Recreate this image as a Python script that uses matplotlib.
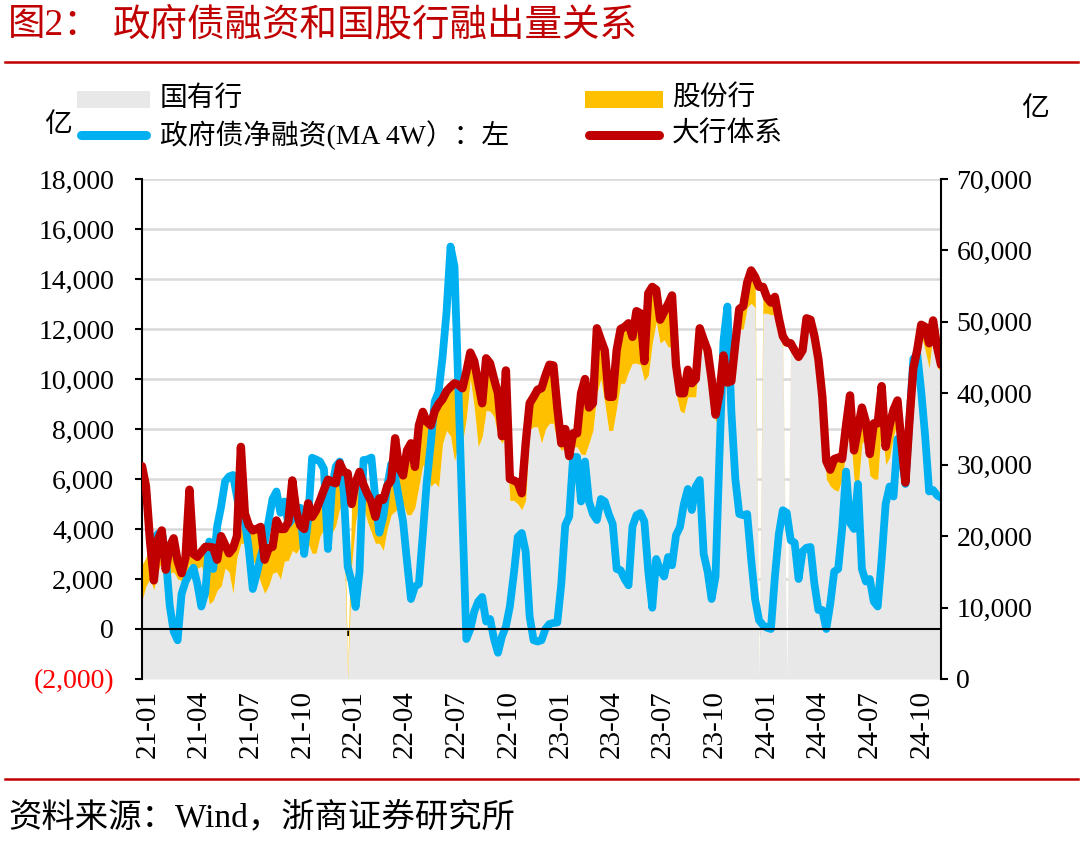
import numpy as np
import pandas as pd
import matplotlib
matplotlib.use('Agg')
import matplotlib.pyplot as plt
import matplotlib.dates as mdates
from matplotlib.lines import Line2D
from matplotlib.patches import Rectangle
from matplotlib.transforms import ScaledTranslation, blended_transform_factory
from matplotlib.ticker import FixedLocator, FuncFormatter

plt.rcParams['font.family'] = ['Liberation Serif', 'Noto Sans CJK SC', 'DejaVu Sans']

# ---------------- data (weekly, 亿元) ----------------
dates = pd.date_range('2021-01-01', periods=203, freq='7D')

# 大行体系 (right axis)
dahang = [
    29800, 27000, 19500, 13800, 19500, 20800, 15300, 18500, 19700, 16500,
    14800, 17000, 26500, 17500, 17100, 17800, 18500, 18500, 18400, 16700,
    20000, 18800, 17600, 18300, 20000, 32500, 23200, 21500, 20800, 21000,
    21300, 16700, 18300, 18500, 22200, 21000, 21000, 22000, 27800, 23500,
    21500, 21000, 24600, 22700, 23600, 25000, 26500, 27900, 27600, 27400,
    30200, 29000, 28800, 24500, 27500, 29000, 27200, 25900, 24800, 22700,
    25300, 25100, 27000, 27800, 33700, 29500, 28500, 32000, 33000, 29700,
    35500, 37400, 36000, 35500, 37500, 38500, 39200, 40300, 40900, 41400,
    41200, 40700, 43000, 45700, 44500, 41500, 38600, 44900, 44200, 42000,
    40000, 34000, 43200, 28000, 27800, 27500, 26000, 33000, 38600, 39500,
    40500, 40700, 42500, 44000, 43900, 38000, 33000, 35000, 31200, 34400,
    34400, 40000, 42000, 38000, 38600, 49100, 47500, 46000, 39500, 39500,
    46000, 49000, 49300, 49800, 47900, 51500, 51200, 44500, 54000, 54900,
    54500, 50300, 51400, 52500, 53700, 44000, 40000, 40000, 43300, 41400,
    42000, 49100, 47500, 46000, 42000, 37000, 40000, 45300, 41500, 41700,
    47000, 51800, 52200, 55500, 57200, 56300, 54900, 54900, 53400, 52700,
    53500, 50500, 48000, 47100, 47000, 46000, 45100, 46000, 50500, 50300,
    48000, 44800, 39500, 30500, 29300, 30800, 31000, 30800, 35500, 39700,
    32000, 35000, 38000, 36000, 31500, 35800, 35800, 41000, 32500, 35500,
    37700, 39000, 33000, 27500, 36000, 43500, 46100, 49600, 49300, 47000,
    50200, 46500, 44000,
]

# 国有行 (right axis, area)
guoyou = [
    11000, 13000, 14000, 12500, 15000, 16500, 13000, 14800, 15000, 14000,
    13800, 14000, 16200, 15000, 15500, 15800, 14000, 10500, 11000, 12400,
    13000, 15500, 15000, 12000, 17000, 19000, 19000, 17500, 16700, 15500,
    13500, 12000, 13000, 14800, 15000, 14000, 16500, 16600, 18000, 17600,
    18500, 19400, 19000, 17600, 17600, 20000, 21000, 21200, 20400, 21500,
    24000, 22000, 0, 16000, 22000, 25000, 24000, 22000, 20500, 19000,
    19000, 18000, 21000, 23000, 23500, 24000, 24500, 23000, 23000, 24000,
    27000, 30000, 29000, 27000, 27500, 26900, 33000, 34800, 34000, 30500,
    33000, 33000, 36500, 42000, 38000, 32500, 33900, 37600, 37500, 36700,
    34000, 33000, 34000, 25000, 25000, 24500, 23700, 25000, 35000, 35300,
    35300, 33000, 35000, 35800, 35800, 33000, 32000, 32500, 30500, 32500,
    32500, 31500, 31400, 33000, 34800, 40000, 42000, 38600, 34800, 34800,
    38000, 41400, 41400, 43000, 44200, 44200, 44000, 41800, 42500, 47000,
    50000, 47000, 47500, 46500, 46500, 40000, 37600, 37200, 39500, 39500,
    39500, 47800, 45500, 45000, 40000, 36000, 37000, 43000, 40000, 40500,
    45000, 49000, 49000, 52000, 52600, 52000, 0, 51200, 51200, 51000,
    51000, 48500, 46500, 0, 46000, 45000, 44500, 45500, 50000, 49500,
    47500, 44000, 37000, 28000, 27000, 26500, 26300, 28000, 32000, 35000,
    28000, 26500, 33000, 33500, 28500, 28000, 28000, 36000, 30000, 31000,
    34000, 36000, 31000, 27000, 33000, 41500, 45000, 48000, 46000, 43500,
    48500, 43700, 43000,
]

# 股份行 (right axis, stacked area)
gufen = [
    5000, 4000, 5500, 1300, 4500, 4300, 2300, 3700, 4700, 2500,
    1000, 3000, 2800, 2500, 1600, 2000, 4500, 8000, 7400, 4300,
    7000, 3300, 2600, 6300, 3000, 2000, 4200, 4000, 4100, 5500,
    7800, 4700, 5300, 3700, 7200, 7000, 4500, 5400, 5000, 5900,
    3000, 1600, 5600, 5100, 6000, 5000, 5500, 6700, 7200, 5900,
    4500, 7000, 800, 8500, 5500, 4000, 3200, 3900, 4300, 3700,
    6300, 7100, 6000, 4800, 5500, 5500, 4000, 9000, 10000, 5700,
    8500, 7400, 7000, 8500, 10000, 11600, 6200, 5500, 6900, 10900,
    8200, 7700, 6500, 3700, 6500, 9000, 4700, 7300, 6700, 5300,
    6000, 1000, 6000, 3000, 2800, 3000, 2300, 8000, 3600, 4200,
    5200, 7700, 7500, 8200, 8100, 5000, 1000, 2500, 700, 1900,
    1900, 8500, 10600, 5000, 3800, 9100, 5500, 7400, 4700, 4700,
    8000, 7600, 7900, 6800, 3700, 7300, 7200, 2700, 11500, 7900,
    4500, 3300, 3900, 6000, 7200, 4000, 2400, 2800, 3800, 1900,
    2500, 1300, 2000, 1000, 2000, 1000, 3000, 2300, 1500, 1200,
    2000, 2800, 3200, 3500, 4600, 4300, 0, 3700, 2200, 1700,
    2500, 2000, 1500, 0, 1000, 1000, 600, 500, 500, 800,
    500, 800, 2500, 2500, 2300, 4300, 4700, 2800, 3500, 4700,
    4000, 8500, 5000, 2500, 3000, 7800, 7800, 5000, 2500, 4500,
    3700, 3000, 2000, 500, 3000, 2000, 1100, 1600, 3300, 3500,
    1700, 2800, 1000,
]

# 政府债净融资 MA 4W (left axis)
zhengfuzhai = [
    np.nan, np.nan, 3500, 3560, 3800, 3900, 2900, 950, -100, -450,
    1400, 1900, 2200, 2450, 1800, 900, 1450, 3500, 2400, 4100,
    4900, 5900, 6100, 6160, 5300, 4500, 4300, 3200, 1600, 2200,
    2900, 3450, 4300, 5200, 5500, 4650, 5100, 4200, 4400, 4800,
    4850, 3000, 4400, 6850, 6780, 6700, 6400, 3200, 5600, 6500,
    6700, 5500, 2500, 1900, 880, 2300, 6760, 6780, 6860, 5200,
    3850, 4500, 5700, 6600, 6080, 5200, 4300, 2700, 1200, 1700,
    1800, 3800, 5900, 7400, 9100, 9500, 10900, 12700, 15300, 14500,
    9500, 4500, -400, 0, 700, 1100, 1280, 300, 400, -400,
    -950, -300, 100, 900, 2200, 3680, 3840, 3100, 500, -450,
    -500, -450, 0, 200, 240, 260, 1800, 4150, 4500, 6880,
    6880, 5100, 6700, 5100, 4600, 4360, 5200, 5100, 4600, 4200,
    2400, 2350, 2000, 1750, 4100, 4550, 4640, 4300, 2300, 850,
    2800, 2360, 2100, 2880, 2550, 3750, 4080, 5000, 5600, 4760,
    5700, 5960, 3000, 2300, 1200, 2100, 7000, 11500, 12900, 8700,
    6000, 4600, 4550, 4600, 2800, 1200, 350, 150, 50, 0,
    2080, 3800, 4750, 4650, 3550, 3450, 2000, 3100, 3250, 3280,
    1800, 760, 760, 0, 1000, 2300, 2400, 4000, 6300, 4250,
    4000, 5800, 2400, 1900, 2000, 1100, 900, 2800, 5000, 5700,
    5300, 7600, 7000, 5800, 8300, 10800, 11000, 9500, 7700, 5500,
    5560, 5350, 5250,
]

tick_dates = pd.to_datetime(['2021-01-01', '2021-04-01', '2021-07-01', '2021-10-01',
                             '2022-01-01', '2022-04-01', '2022-07-01', '2022-10-01',
                             '2023-01-01', '2023-04-01', '2023-07-01', '2023-10-01',
                             '2024-01-01', '2024-04-01', '2024-07-01', '2024-10-01'])
tick_labels = ['21-01', '21-04', '21-07', '21-10', '22-01', '22-04', '22-07', '22-10',
               '23-01', '23-04', '23-07', '23-10', '24-01', '24-04', '24-07', '24-10']
left_ticks = list(range(-2000, 18001, 2000))
right_ticks = list(range(0, 70001, 10000))

# ---------------- figure ----------------
W, H = 1080, 844
fig = plt.figure(figsize=(W / 100, H / 100), dpi=100)
def fx(px): return px / W
def fy(py): return 1 - py / H

RED = '#C00000'
GREY = '#E8E8E8'
YEL = '#FFC000'
BLUE = '#00B0F0'

ax = fig.add_axes([fx(142), fy(679), fx(941) - fx(142), fy(179) - fy(679)])
ax2 = ax.twinx()
ax.set_ylim(-2000, 18000)
ax2.set_ylim(0, 70000)
ax.set_xlim(dates[0], dates[-1])

gy = np.array(guoyou, dtype=float)
gf = np.array(gufen, dtype=float)

ax.fill_between(dates, 0, gy, color=GREY, lw=0, transform=ax2.transData, zorder=1)
ax.fill_between(dates, gy, gy + gf, color=YEL, lw=0, transform=ax2.transData, zorder=2)
ax.plot(dates, zhengfuzhai, color=BLUE, lw=5.6, zorder=3,
        solid_joinstyle='round', solid_capstyle='round')
ax.plot(dates, dahang, color=RED, lw=6.0, zorder=4, transform=ax2.transData,
        solid_joinstyle='round', solid_capstyle='round')
ax.set_ylim(-2000, 18000)
ax.set_xlim(dates[0], dates[-1])

# grid
ax.yaxis.set_major_locator(FixedLocator(left_ticks))
ax.yaxis.grid(True, color='#D9D9D9', lw=1.8, zorder=0)
ax.set_axisbelow(True)

def lfmt(v, pos):
    return f"({abs(v):,.0f})" if v < 0 else f"{v:,.0f}"
ax.yaxis.set_major_formatter(FuncFormatter(lfmt))
ax2.yaxis.set_major_locator(FixedLocator(right_ticks))
ax2.yaxis.set_major_formatter(FuncFormatter(lambda v, p: f"{v:,.0f}"))

ax.tick_params(axis='y', direction='out', length=5, width=1.5, pad=15, labelsize=20)
ax2.tick_params(axis='y', direction='out', length=5, width=1.5, pad=6, labelsize=20)
for lab, v in zip(ax.get_yticklabels(), left_ticks):
    if v < 0:
        lab.set_color('#FF0000')

for s in ['top', 'right']:
    ax.spines[s].set_visible(False)
for s in ['top', 'left', 'bottom']:
    ax2.spines[s].set_visible(False)
ax.spines['left'].set_linewidth(1.5)
ax2.spines['right'].set_linewidth(1.5)
ax.spines['bottom'].set_position(('data', 0))
ax.spines['bottom'].set_linewidth(1.5)
ax.spines['bottom'].set_zorder(5)

ax.set_xticks(tick_dates)
ax.tick_params(axis='x', direction='out', length=5, width=1.5, labelbottom=False)
trans = blended_transform_factory(ax.transData, ax.transAxes) + \
    ScaledTranslation(6 / 100, 0, fig.dpi_scale_trans)
for d, lab in zip(tick_dates, tick_labels):
    ax.text(mdates.date2num(d), -0.022, lab, transform=trans, rotation=90,
            ha='center', va='top', fontsize=21, clip_on=False)

# ---------------- title / rules / legend / notes ----------------
fig.text(fx(8), fy(26), '图2：', color=RED, fontsize=27, va='center', ha='left')
fig.text(fx(113), fy(26), '政府债融资和国股行融出量关系', color=RED, fontsize=27,
         va='center', ha='left')
fig.add_artist(Line2D([fx(5), fx(1078)], [fy(62), fy(62)], color=RED, lw=1.8,
                      transform=fig.transFigure))
fig.add_artist(Line2D([fx(5), fx(1078)], [fy(779), fy(779)], color=RED, lw=1.8,
                      transform=fig.transFigure))

fig.add_artist(Rectangle((fx(77), fy(108)), fx(150) - fx(77), fy(91) - fy(108),
                         transform=fig.transFigure, color=GREY, lw=0))
fig.add_artist(Rectangle((fx(585), fy(108)), fx(663) - fx(585), fy(91) - fy(108),
                         transform=fig.transFigure, color=YEL, lw=0))
fig.add_artist(Line2D([fx(81), fx(146)], [fy(135), fy(135)], color=BLUE, lw=6.5,
                      solid_capstyle='round', transform=fig.transFigure))
fig.add_artist(Line2D([fx(589), fx(659)], [fy(135), fy(135)], color=RED, lw=6.5,
                      solid_capstyle='round', transform=fig.transFigure))
fs_leg = 20
fig.text(fx(160), fy(99), '国有行', fontsize=fs_leg, va='center', ha='left')
fig.text(fx(672), fy(99), '股份行', fontsize=fs_leg, va='center', ha='left')
fig.text(fx(160), fy(135), '政府债净融资(MA 4W）：左', fontsize=fs_leg, va='center', ha='left')
fig.text(fx(672), fy(135), '大行体系', fontsize=fs_leg, va='center', ha='left')
fig.text(fx(44), fy(125), '亿', fontsize=fs_leg, va='center', ha='left')
fig.text(fx(1021), fy(110), '亿', fontsize=fs_leg, va='center', ha='left')

fig.text(fx(8), fy(818), '资料来源：Wind，浙商证券研究所', fontsize=24, va='center', ha='left')

fig.savefig('out.png', dpi=100)
